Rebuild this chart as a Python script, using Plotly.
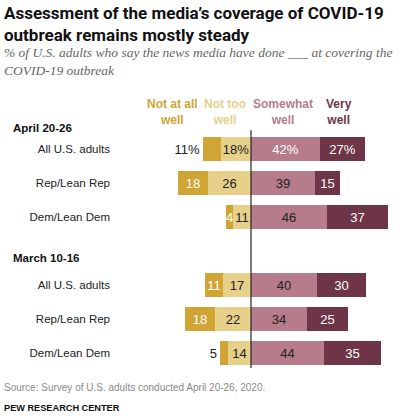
import plotly.graph_objects as go

# Data (percent of U.S. adults).
groups = ['All U.S. adults', 'Rep/Lean Rep', 'Dem/Lean Dem']
periods = ['April 20-26', 'March 10-16']

not_at_all = [11, 18, 4, 11, 18, 5]
not_too = [18, 26, 11, 17, 22, 14]
somewhat = [42, 39, 46, 40, 34, 44]
very = [27, 15, 37, 30, 25, 35]

# Labels on the bars (first row carries the % sign).
not_at_all_txt = ['11%', '18', '4', '11', '18', '5']
not_too_txt = ['18%', '26', '11', '17', '22', '14']
somewhat_txt = ['42%', '39', '46', '40', '34', '44']
very_txt = ['27%', '15', '37', '30', '25', '35']

GOLD = '#d0a534'
LIGHT_GOLD = '#e7d08a'
PINK = '#b67c8b'
PLUM = '#6e3447'
INK = '#222222'

W, H = 402, 416
TOP, BOTTOM = 98, 373.4  # plot area in page pixels


def py(px):
    '''page pixel (from top) -> paper y'''
    return (BOTTOM - px) / (BOTTOM - TOP)


# rows 0-2 are April, row 3 is the gap, rows 4-6 are March
rows = [0, 1, 2, 4, 5, 6]
row_labels = groups + groups

# the two thinnest gold bars that sit at the stack end get the label outside
na_pos = ['outside', 'inside', 'inside', 'inside', 'inside', 'outside']
na_colors = [INK if p == 'outside' else 'white' for p in na_pos]

font = 'Liberation Sans, Arial, sans-serif'

fig = go.Figure()
fig.add_trace(go.Bar(
    y=rows, x=[-v for v in not_too], orientation='h',
    marker_color=LIGHT_GOLD, marker_line_width=0,
    text=not_too_txt, textposition='inside', insidetextanchor='middle',
    textfont=dict(color=INK, size=13, family=font),
    hoverinfo='skip', width=0.7,
))
fig.add_trace(go.Bar(
    y=rows, x=[-v for v in not_at_all], orientation='h',
    marker_color=GOLD, marker_line_width=0,
    text=not_at_all_txt, textposition=na_pos, insidetextanchor='middle',
    textfont=dict(color=na_colors, size=13, family=font),
    hoverinfo='skip', width=0.7, cliponaxis=False,
))
fig.add_trace(go.Bar(
    y=rows, x=somewhat, orientation='h',
    marker_color=PINK, marker_line_width=0,
    text=somewhat_txt, textposition='inside', insidetextanchor='middle',
    textfont=dict(color=['white', INK, INK, INK, INK, INK], size=13,
                  family=font),
    hoverinfo='skip', width=0.7,
))
fig.add_trace(go.Bar(
    y=rows, x=very, orientation='h',
    marker_color=PLUM, marker_line_width=0,
    text=very_txt, textposition='inside', insidetextanchor='middle',
    textfont=dict(color='white', size=13, family=font),
    hoverinfo='skip', width=0.7,
))

# zero line
fig.add_shape(type='line', xref='x', yref='y', x0=0, x1=0, y0=-0.55, y1=6.45,
              line=dict(color=INK, width=1.2))

annotations = [
    dict(text='<b>Assessment of the media\u2019s coverage of COVID-19<br>'
              'outbreak remains mostly steady</b>',
         x=2 / W, y=py(1), yanchor='top',
         font=dict(size=17, color='#111111', family='Roboto, Arial')),
    dict(text='<i>% of U.S. adults who say the news media have done ___ at '
              'covering the<br>COVID-19 outbreak</i>',
         x=2 / W, y=py(43), yanchor='top',
         font=dict(size=13.5, color='#666666',
                   family='Liberation Serif, Georgia, serif')),
    dict(text='Source: Survey of U.S. adults conducted April 20-26, 2020.',
         x=2 / W, y=py(388), yanchor='middle',
         font=dict(size=10, color='#8a8a8a', family=font)),
    dict(text='<b>PEW RESEARCH CENTER</b>',
         x=2 / W, y=py(408), yanchor='middle',
         font=dict(size=9.2, color='#111111', family=font)),
]
for a in annotations:
    a.update(xref='paper', yref='paper', xanchor='left', align='left',
             showarrow=False)

# category headers above the bars
headers = [('Not at all<br>well', GOLD, 172),
           ('Not too<br>well', LIGHT_GOLD, 225),
           ('Somewhat<br>well', PINK, 283),
           ('Very<br>well', PLUM, 339)]
for txt, col, px_x in headers:
    annotations.append(dict(
        text=f'<b>{txt}</b>', x=px_x / W, y=py(112), xref='paper',
        yref='paper', xanchor='center', yanchor='middle', showarrow=False,
        font=dict(size=12, color=col, family=font)))

# period headers
for name, yv in zip(periods, [-0.62, 3.2]):
    annotations.append(dict(
        text=f'<b>{name}</b>', x=11 / W, y=yv, xref='paper', yref='y',
        xanchor='left', yanchor='middle', showarrow=False,
        font=dict(size=11.5, color='#111111', family=font)))

fig.update_layout(
    width=W, height=H,
    margin=dict(l=0, r=0, t=TOP, b=H - BOTTOM),
    paper_bgcolor='white', plot_bgcolor='white',
    barmode='relative', bargap=0,
    showlegend=False,
    annotations=annotations,
    uniformtext=dict(minsize=12, mode='show'),
)
fig.update_xaxes(range=[-79.4, 87.3], domain=[120 / W, 395 / W],
                 visible=False, fixedrange=True)
fig.update_yaxes(range=[6.6, -1.5], tickvals=rows, ticktext=row_labels,
                 showgrid=False, zeroline=False, showline=False, ticks='',
                 ticklabelstandoff=9, fixedrange=True,
                 tickfont=dict(size=11.5, color=INK, family=font))

# drop the default page margin so the figure sits at the window's corner
fig.write_html('out.html', config={'displayModeBar': False},
               post_script="document.body.style.margin='0';")
